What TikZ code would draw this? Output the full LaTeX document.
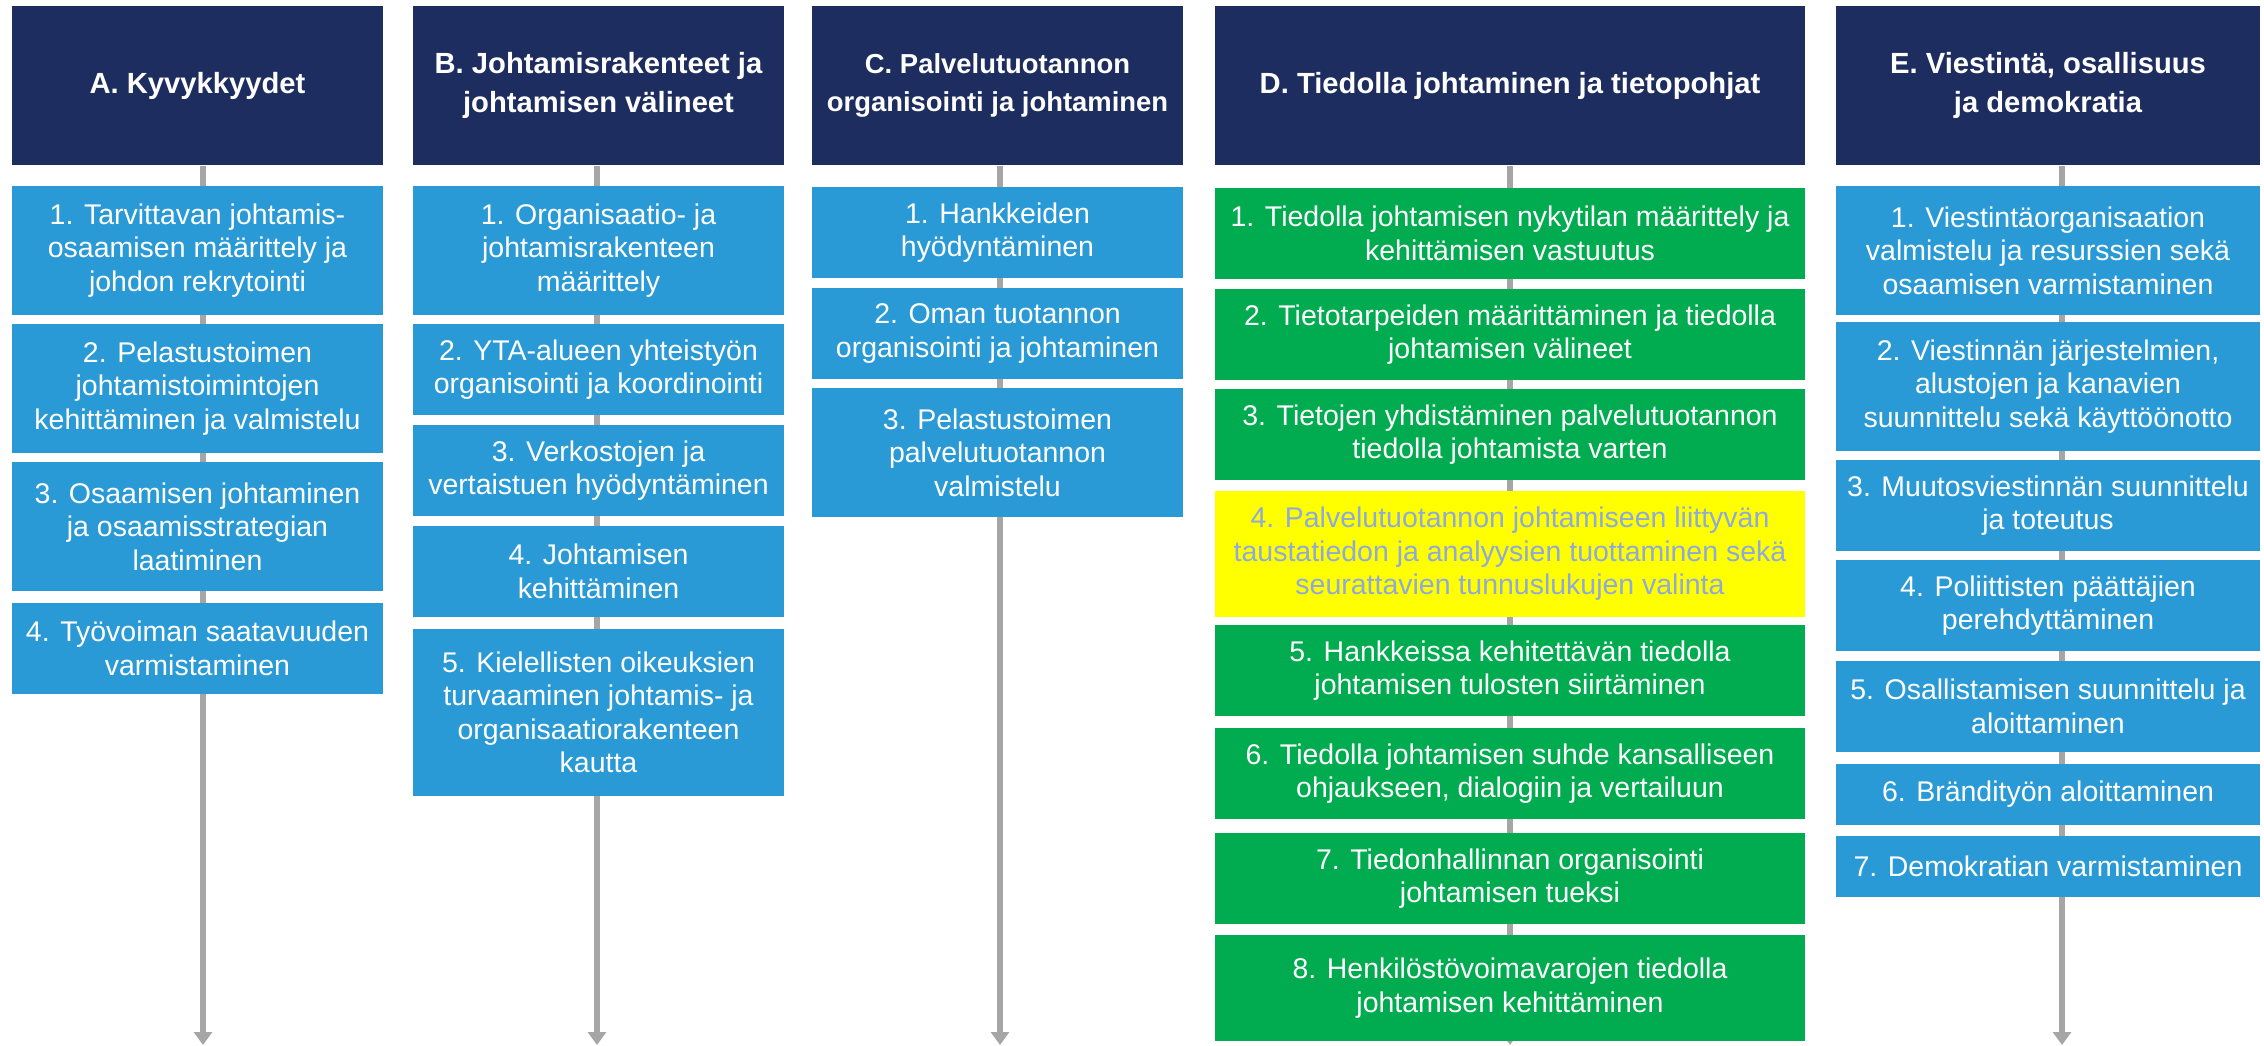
\documentclass[tikz,border=0pt]{standalone}
\usepackage{fontspec}
\setmainfont{Liberation Sans}
\usetikzlibrary{arrows.meta,backgrounds}

\definecolor{headnavy}{HTML}{1E2D5F}
\definecolor{itemblue}{HTML}{2A9AD6}
\definecolor{itemgreen}{HTML}{00AC4F}
\definecolor{itemyellow}{HTML}{FFFF00}
\definecolor{paletext}{HTML}{8EA9DB}
\definecolor{flowgrey}{HTML}{A6A6A6}

\begin{document}
\begin{tikzpicture}[x=0.01cm, y=-0.01cm,
	box/.style={rectangle, inner sep=0pt, align=center, text=white, font=\fontsize{8.1}{9.5}\selectfont},
	head/.style={box, fill=headnavy, minimum height=1.59cm, font=\bfseries\fontsize{8.3}{10.9}\selectfont},
	blueitem/.style={box, fill=itemblue},
	greenitem/.style={box, fill=itemgreen},
	yellowitem/.style={box, fill=itemyellow, text=paletext},
	slim/.style={minimum width=3.71cm},
	broad/.style={minimum width=5.90cm},
	mid/.style={minimum width=4.24cm},
	flow/.style={draw=flowgrey, line width=0.06cm, -{Triangle[width=0.18cm, length=0.13cm]}}]
	
	\useasboundingbox (0, 0) rectangle (2264, 1046);
	
	% A
	\node[head, slim] (hA) at (197.5, 85.5) {A. Kyvykkyydet};
	\node[blueitem, slim, minimum height=1.29cm] (a1) at (197.5, 250.5) {1. Tarvittavan johtamis-\\osaamisen määrittely ja\\johdon rekrytointi};
	\node[blueitem, slim, minimum height=1.29cm] (a2) at (197.5, 388.5) {2. Pelastustoimen\\johtamistoimintojen\\kehittäminen ja valmistelu};
	\node[blueitem, slim, minimum height=1.29cm] (a3) at (197.5, 526.5) {3. Osaamisen johtaminen\\ja osaamisstrategian\\laatiminen};
	\node[blueitem, slim, minimum height=0.91cm] (a4) at (197.5, 648.5) {4. Työvoiman saatavuuden\\varmistaminen};
	\coordinate (endA) at (203, 1045);
	
	% B
	\node[head, slim] (hB) at (598.5, 85.5) {B. Johtamisrakenteet ja\\johtamisen välineet};
	\node[blueitem, slim, minimum height=1.29cm] (b1) at (598.5, 250.5) {1. Organisaatio- ja\\johtamisrakenteen\\määrittely};
	\node[blueitem, slim, minimum height=0.91cm] (b2) at (598.5, 369.5) {2. YTA-alueen yhteistyön\\organisointi ja koordinointi};
	\node[blueitem, slim, minimum height=0.91cm] (b3) at (598.5, 470.5) {3. Verkostojen ja\\vertaistuen hyödyntäminen};
	\node[blueitem, slim, minimum height=0.91cm] (b4) at (598.5, 571.5) {4. Johtamisen\\kehittäminen};
	\node[blueitem, slim, minimum height=1.67cm] (b5) at (598.5, 712.5) {5. Kielellisten oikeuksien\\turvaaminen johtamis- ja\\organisaatiorakenteen\\kautta};
	\coordinate (endB) at (597, 1045);
	
	% C
	\node[head, slim, font=\bfseries\fontsize{7.8}{10.9}\selectfont] (hC) at (997.5, 85.5) {C. Palvelutuotannon\\organisointi ja johtaminen};
	\node[blueitem, slim, minimum height=0.91cm] (c1) at (997.5, 232.5) {1. Hankkeiden\\hyödyntäminen};
	\node[blueitem, slim, minimum height=0.91cm] (c2) at (997.5, 333.5) {2. Oman tuotannon\\organisointi ja johtaminen};
	\node[blueitem, slim, minimum height=1.29cm] (c3) at (997.5, 452.5) {3. Pelastustoimen\\palvelutuotannon\\valmistelu};
	\coordinate (endC) at (1000, 1045);
	
	% D
	\node[head, broad] (hD) at (1510, 85.5) {D. Tiedolla johtaminen ja tietopohjat};
	\node[greenitem, broad, minimum height=0.91cm] (d1) at (1510, 233.5) {1. Tiedolla johtamisen nykytilan määrittely ja\\kehittämisen vastuutus};
	\node[greenitem, broad, minimum height=0.91cm] (d2) at (1510, 334.5) {2. Tietotarpeiden määrittäminen ja tiedolla\\johtamisen välineet};
	\node[greenitem, broad, minimum height=0.91cm] (d3) at (1510, 434.5) {3. Tietojen yhdistäminen palvelutuotannon\\tiedolla johtamista varten};
	\node[yellowitem, broad, minimum height=1.26cm] (d4) at (1510, 554) {4. Palvelutuotannon johtamiseen liittyvän\\taustatiedon ja analyysien tuottaminen sekä\\seurattavien tunnuslukujen valinta};
	\node[greenitem, broad, minimum height=0.91cm] (d5) at (1510, 670.5) {5. Hankkeissa kehitettävän tiedolla\\johtamisen tulosten siirtäminen};
	\node[greenitem, broad, minimum height=0.91cm] (d6) at (1510, 773.5) {6. Tiedolla johtamisen suhde kansalliseen\\ohjaukseen, dialogiin ja vertailuun};
	\node[greenitem, broad, minimum height=0.91cm] (d7) at (1510, 878.5) {7. Tiedonhallinnan organisointi\\johtamisen tueksi};
	\node[greenitem, broad, minimum height=1.06cm] (d8) at (1510, 988) {8. Henkilöstövoimavarojen tiedolla\\johtamisen kehittäminen};
	\coordinate (endD) at (1510, 1045);
	
	% E
	\node[head, mid] (hE) at (2048, 85.5) {E. Viestintä, osallisuus\\ja demokratia};
	\node[blueitem, mid, minimum height=1.29cm] (e1) at (2048, 250.5) {1. Viestintäorganisaation\\valmistelu ja resurssien sekä\\osaamisen varmistaminen};
	\node[blueitem, mid, minimum height=1.29cm] (e2) at (2048, 386.5) {2. Viestinnän järjestelmien,\\alustojen ja kanavien\\suunnittelu sekä käyttöönotto};
	\node[blueitem, mid, minimum height=0.91cm] (e3) at (2048, 505.5) {3. Muutosviestinnän suunnittelu\\ja toteutus};
	\node[blueitem, mid, minimum height=0.91cm] (e4) at (2048, 605.5) {4. Poliittisten päättäjien\\perehdyttäminen};
	\node[blueitem, mid, minimum height=0.91cm] (e5) at (2048, 706.5) {5. Osallistamisen suunnittelu ja\\aloittaminen};
	\node[blueitem, mid, minimum height=0.61cm] (e6) at (2048, 794.5) {6. Brändityön aloittaminen};
	\node[blueitem, mid, minimum height=0.61cm] (e7) at (2048, 866.5) {7. Demokratian varmistaminen};
	\coordinate (endE) at (2062, 1045);
	
	\begin{scope}[on background layer]
		\draw[flow] (hA.south -| endA) -- (endA);
		\draw[flow] (hB.south -| endB) -- (endB);
		\draw[flow] (hC.south -| endC) -- (endC);
		\draw[flow] (hD.south -| endD) -- (endD);
		\draw[flow] (hE.south -| endE) -- (endE);
	\end{scope}
	
\end{tikzpicture}
\end{document}
